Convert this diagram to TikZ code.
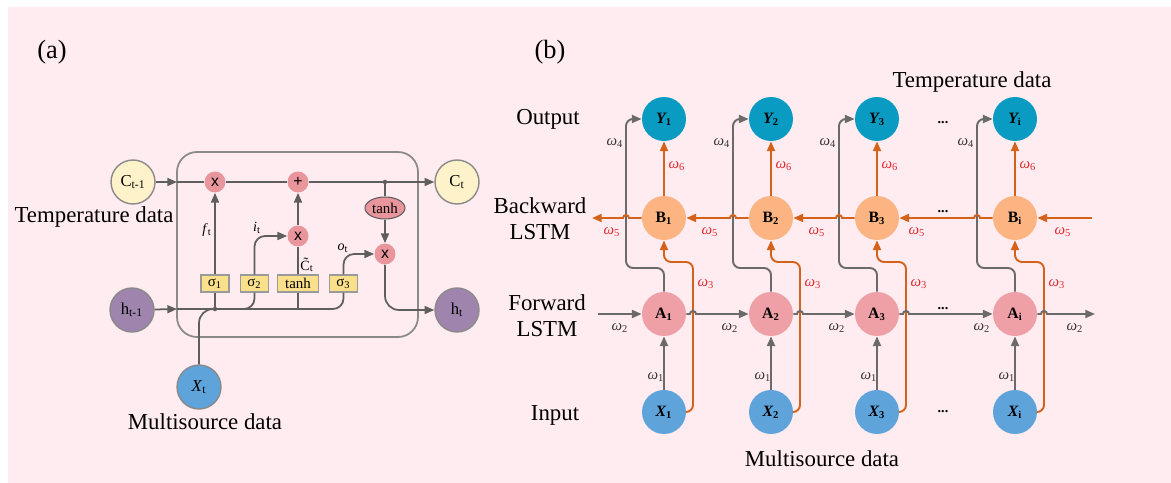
\documentclass[tikz,border=0pt]{standalone}
\usepackage{fontspec}
\setmainfont{Liberation Serif}
\newfontfamily\lsans{Liberation Sans}
\usetikzlibrary{arrows.meta,shapes.geometric}
\definecolor{bgpink}{HTML}{FFECF0}
\definecolor{agray}{HTML}{5E5E5E}
\definecolor{frameg}{HTML}{8A8A8A}
\definecolor{lgray}{HTML}{6A6A6A}
\definecolor{lorange}{HTML}{D4621A}
\definecolor{lred}{HTML}{E0282E}
\definecolor{ycol}{HTML}{0A9BC2}
\definecolor{bcol}{HTML}{FBB482}
\definecolor{acol}{HTML}{EFA0A6}
\definecolor{xcol}{HTML}{5EA3DA}
\definecolor{opink}{HTML}{E9959C}
\definecolor{boxyel}{HTML}{FBE08C}
\definecolor{boxline}{HTML}{9A9A9A}
\definecolor{cyel}{HTML}{FDF2C9}
\definecolor{hpur}{HTML}{9F84AE}
\tikzset{
  big/.style={circle, minimum size=0.88cm, inner sep=0pt, draw=frameg, line width=0.8pt, font=\fontsize{9.5}{11}\selectfont},
  bn/.style={circle, minimum size=0.88cm, inner sep=0pt, font=\fontsize{9}{10}\selectfont},
  smallc/.style={circle, fill=opink, minimum size=0.42cm, inner sep=0pt, font=\lsans\fontsize{9}{10}\selectfont},
  gbox/.style={draw=boxline, fill=boxyel, minimum width=0.56cm, minimum height=0.34cm, inner sep=0pt, line width=0.6pt, font=\fontsize{8.5}{9}\selectfont},
  lbl/.style={font=\fontsize{13}{16}\selectfont, align=center, inner sep=0pt},
  plbl/.style={font=\fontsize{15}{18}\selectfont, inner sep=0pt},
  sl/.style={font=\fontsize{8}{9}\selectfont, inner sep=0pt},
  wl/.style={font=\fontsize{8.5}{9}\selectfont, inner sep=0pt, text=black!80},
  wr/.style={font=\fontsize{8.5}{9}\selectfont, inner sep=0pt, text=lred},
  al/.style={draw=agray, line width=1pt},
  gl/.style={draw=lgray, line width=1.1pt},
  ol/.style={draw=lorange, line width=1.1pt},
  frm/.style={draw=frameg, line width=1pt, rounded corners=0.4cm},
  dts/.style={font=\bfseries\fontsize{8}{9}\selectfont, inner sep=0pt}
}
\begin{document}
\begin{tikzpicture}[x=0.02cm, y=-0.02cm, >={Triangle[length=5.5pt,width=4.5pt]}]
\useasboundingbox (0,0) rectangle (1171,483);
\fill[bgpink] (8,7) rectangle (1171,483);

% ---------------- (a) ----------------
\node[plbl] (la) at (52,52) {(a)};
\draw[frm] (177,152) rectangle (418,337);
\coordinate (fl1) at (177,182);
\coordinate (fl2) at (177,309);
\coordinate (d1) at (385,182);

\node[big, fill=cyel] (Cprev) at (133,182) {C\textsubscript{t-1}};
\node[big, fill=cyel] (Cnext) at (457,182) {C\textsubscript{t}};
\node[big, fill=hpur] (hprev) at (132,310) {h\textsubscript{t-1}};
\node[big, fill=hpur] (hnext) at (457,310) {h\textsubscript{t}};
\node[big, fill=xcol] (Xt) at (199,387) {\textit{X}\textsubscript{t}};

\node[smallc] (m1) at (215,182) {x};
\node[smallc] (p1) at (298,182) {+};
\node[smallc] (m2) at (298,236) {x};
\node[smallc] (m3) at (385,254) {x};
\node[ellipse, draw=agray, fill=opink, minimum width=0.8cm, minimum height=0.44cm, inner sep=0pt, line width=0.6pt, font=\fontsize{8.5}{9}\selectfont] (th) at (385,208) {tanh};

\node[gbox] (s1) at (215,283.5) {σ\textsubscript{1}};
\node[gbox] (s2) at (254.5,283.5) {σ\textsubscript{2}};
\node[gbox, minimum width=0.82cm] (tb) at (298,283.5) {tanh};
\node[gbox] (s3) at (343.5,283.5) {σ\textsubscript{3}};

% top cell line
\draw[al,->] (Cprev) -- (fl1);
\draw[al] (fl1) -- (m1);
\draw[al] (m1) -- (p1);
\draw[al] (p1) -- (d1);
\draw[al,->] (d1) -- (Cnext);
\fill[agray] (d1) circle[radius=0.045cm];

% bottom hidden line
\draw[al,->] (hprev) -- (fl2);
\draw[al,rounded corners=6pt] (fl2) -| (s3.south);
\draw[al,rounded corners=6pt] (s2.south) |- (240,309);
\draw[al] (tb.south) -- (tb.south |- fl2);
\draw[al] (s1.south) -- (s1.south |- fl2);
\fill[agray] (s1.south |- fl2) circle[radius=0.045cm];
\draw[al,rounded corners=8pt] (Xt.north) |- (222,309);

% gates
\draw[al,->] (s1) -- (m1);
\node[sl] (ft) at (207,230) {\textit{f}\textsubscript{t}};
\draw[al,->,rounded corners=6pt] (s2.north) |- (m2.west);
\node[sl] (it) at (257,228) {\textit{i}\textsubscript{t}};
\draw[al] (tb) -- (m2);
\node[sl] (ct) at (307,265) {\~{C}\textsubscript{t}};
\draw[al,->] (m2) -- (p1);
\draw[al,->,rounded corners=6pt] (s3.north) |- (m3.west);
\node[sl] (ot) at (343,248) {\textit{o}\textsubscript{t}};
\draw[al] (d1) -- (th);
\draw[al,->] (th) -- (m3);
\draw[al,->,rounded corners=8pt] (m3.south) |- (hnext.west);

\node[lbl] (tda) at (94,217) {Temperature data};
\node[lbl] (msa) at (205,422) {Multisource data};

% ---------------- (b) ----------------
\node[plbl] (lb) at (550,52) {(b)};
\node[lbl] (tdb) at (972,82) {Temperature data};
\node[lbl] (msb) at (822,459) {Multisource data};
\node[lbl] (rout) at (548,119) {Output};
\node[lbl] (rbw) at (540,219) {Backward\\[-1pt]LSTM};
\node[lbl] (rfw) at (547,316) {Forward\\[-1pt]LSTM};
\node[lbl] (rin) at (555,415) {Input};

\foreach \c/\n in {664/1,771/2,877/3,1015/i}{
  \node[bn, fill=ycol] (Y\n) at (\c,119) {\bfseries\itshape Y\textsubscript{\upshape\n}};
  \node[bn, fill=bcol] (B\n) at (\c,218) {\bfseries B\textsubscript{\n}};
  \node[bn, fill=acol] (A\n) at (\c,314) {\bfseries A\textsubscript{\n}};
  \node[bn, fill=xcol] (X\n) at (\c,412) {\bfseries\itshape X\textsubscript{\upshape\n}};
  \draw[gl,->] (X\n) -- (A\n);
  \draw[ol,->,rounded corners=4pt] (X\n.east) -| (\c+29,262) -| (B\n.south);
  \draw[gl,->,rounded corners=4pt] (A\n.north) |- (\c-38,268) |- (Y\n.west);
  \draw[ol,->] (B\n) -- (Y\n);
  \node[wl] at (\c-8,377) {\textit{ω}\textsubscript{1}};
  \node[wr] at (\c+42,284) {\textit{ω}\textsubscript{3}};
  \node[wl] at (\c-49,143) {\textit{ω}\textsubscript{4}};
  \node[wr] at (\c+13,166) {\textit{ω}\textsubscript{6}};
}

% forward row (with hops over orange lines)
\coordinate (ain) at (598,314);
\coordinate (aout) at (1095,314);
\draw[gl,->] (ain) -- (A1);
\draw[gl,->] (A1) -- (690,314) arc[start angle=180,end angle=0,radius=0.06cm] -- (A2);
\draw[gl,->] (A2) -- (797,314) arc[start angle=180,end angle=0,radius=0.06cm] -- (A3);
\draw[gl,->] (A3) -- (903,314) arc[start angle=180,end angle=0,radius=0.06cm] -- (Ai);
\draw[gl,->] (Ai) -- (1041,314) arc[start angle=180,end angle=0,radius=0.06cm] -- (aout);

% backward row
\coordinate (bin) at (1092,218);
\coordinate (bout) at (592,218);
\draw[ol,->] (bin) -- (Bi);
\draw[ol,->] (Bi) -- (980,218) arc[start angle=0,end angle=180,radius=0.06cm] -- (B3);
\draw[ol,->] (B3) -- (842,218) arc[start angle=0,end angle=180,radius=0.06cm] -- (B2);
\draw[ol,->] (B2) -- (736,218) arc[start angle=0,end angle=180,radius=0.06cm] -- (B1);
\draw[ol,->] (B1) -- (629,218) arc[start angle=0,end angle=180,radius=0.06cm] -- (bout);

\foreach \x in {620,730,837,982,1075}{
  \node[wl] at (\x,328) {\textit{ω}\textsubscript{2}};
}
\foreach \x in {612,710,817,917,1063}{
  \node[wr] at (\x,232) {\textit{ω}\textsubscript{5}};
}
\node[dts] (dy) at (943,123) {...};
\node[dts] (db) at (943,212) {...};
\node[dts] (da) at (943,309) {...};
\node[dts] (dx) at (943,412) {...};
\end{tikzpicture}
\end{document}
